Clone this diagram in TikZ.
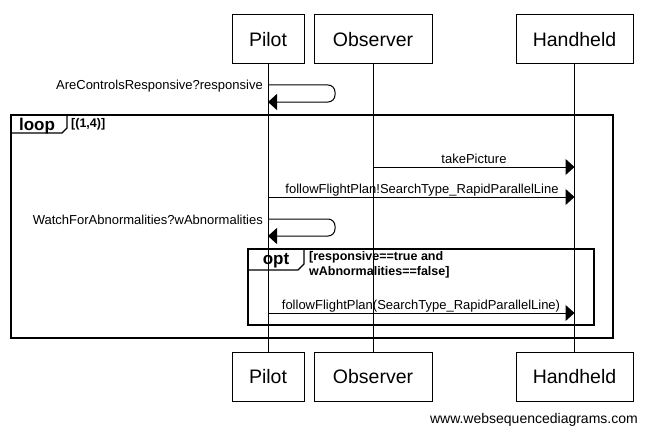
\documentclass[tikz,border=0pt]{standalone}
\usepackage{fontspec}
\setmainfont{Liberation Sans}
\usetikzlibrary{arrows.meta, positioning}
\tikzstyle{actor} = [
    rectangle,
    minimum height=49pt,
    line width=1pt,
    draw=black,
    font=\fontsize{19.5}{22}\selectfont
]
\tikzstyle{lifeline} = [line width=1pt]
\tikzstyle{msg} = [line width=1pt,-{Triangle[length=9pt,width=16pt]}]
\tikzstyle{msglabel} = [inner sep=0pt, font=\fontsize{13}{15}\selectfont]
\tikzstyle{frame} = [line width=2pt]
\tikzstyle{tab} = [line width=1.2pt]
\tikzstyle{tabtext} = [inner sep=0pt, font=\bfseries\fontsize{17}{19}\selectfont]
\tikzstyle{guard} = [
    inner sep=0pt,
    align=left,
    font=\bfseries\fontsize{12.5}{14.5}\selectfont
]

\begin{document}
\begin{tikzpicture}[x=1pt, y=-1pt]
\useasboundingbox (0,0) rectangle (648,436);

% participants, top and bottom
\node (pilot) [actor, minimum width=72pt] at (268,39.5) {Pilot};
\node (observer) [actor, minimum width=118pt] at (373,39.5) {Observer};
\node (handheld) [actor, minimum width=117pt] at (574.5,39.5) {Handheld};

\node (pilotEnd) [actor, minimum width=72pt] at (268,376.5) {Pilot};
\node (observerEnd) [actor, minimum width=118pt] at (373,376.5) {Observer};
\node (handheldEnd) [actor, minimum width=117pt] at (574.5,376.5) {Handheld};

\draw [lifeline] (pilot) -- (pilotEnd);
\draw [lifeline] (observer) -- (observerEnd);
\draw [lifeline] (handheld) -- (handheldEnd);

% message rows
\coordinate (selfA) at (335,85);
\coordinate (selfAback) at (335,102);
\coordinate (rowPicture) at (0,167);
\coordinate (rowPlan) at (0,197);
\coordinate (selfB) at (335,219);
\coordinate (selfBback) at (335,236);
\coordinate (rowOptPlan) at (0,313);

\draw [msg, rounded corners=7pt] (pilot |- selfA) -- (selfA) -- (selfAback)
    -- (pilot |- selfAback);
\node (lblResponsive) [msglabel, anchor=east] at (263,86)
{AreControlsResponsive?responsive};

% loop frame
\draw [frame] (11,115) rectangle (613,338);
\draw [tab] (11,133) -- (62,133) -- (67,128) -- (67,115);
\node (loopTag) [tabtext] at (37,126) {loop};
\node (loopGuard) [guard, anchor=west] at (71,124.5) {[(1,4)]};

\draw [msg] (observer |- rowPicture) -- (handheld |- rowPicture);
\node (lblPicture) [msglabel, anchor=base] at (474,163) {takePicture};

\draw [msg] (pilot |- rowPlan) -- (handheld |- rowPlan);
\node (lblPlan) [msglabel, anchor=base] at (422,193)
{followFlightPlan!SearchType\_RapidParallelLine};

\draw [msg, rounded corners=7pt] (pilot |- selfB) -- (selfB) -- (selfBback)
    -- (pilot |- selfBback);
\node (lblAbnormal) [msglabel, anchor=east] at (263,220)
{WatchForAbnormalities?wAbnormalities};

% opt frame
\draw [frame] (248,249) rectangle (594,325);
\draw [tab] (248,270) -- (298,270) -- (304,264) -- (304,249);
\node (optTag) [tabtext] at (276,260.5) {opt};
\node (optGuard) [guard, anchor=north west] at (309,251.5)
{[responsive==true and\\wAbnormalities==false]};

\draw [msg] (pilot |- rowOptPlan) -- (handheld |- rowOptPlan);
\node (lblOptPlan) [msglabel, anchor=base] at (421,309)
{followFlightPlan(SearchType\_RapidParallelLine)};

\node (credit) [anchor=east, inner sep=0pt, font=\fontsize{14}{16}\selectfont]
at (638,420) {www.websequencediagrams.com};

\end{tikzpicture}
\end{document}
